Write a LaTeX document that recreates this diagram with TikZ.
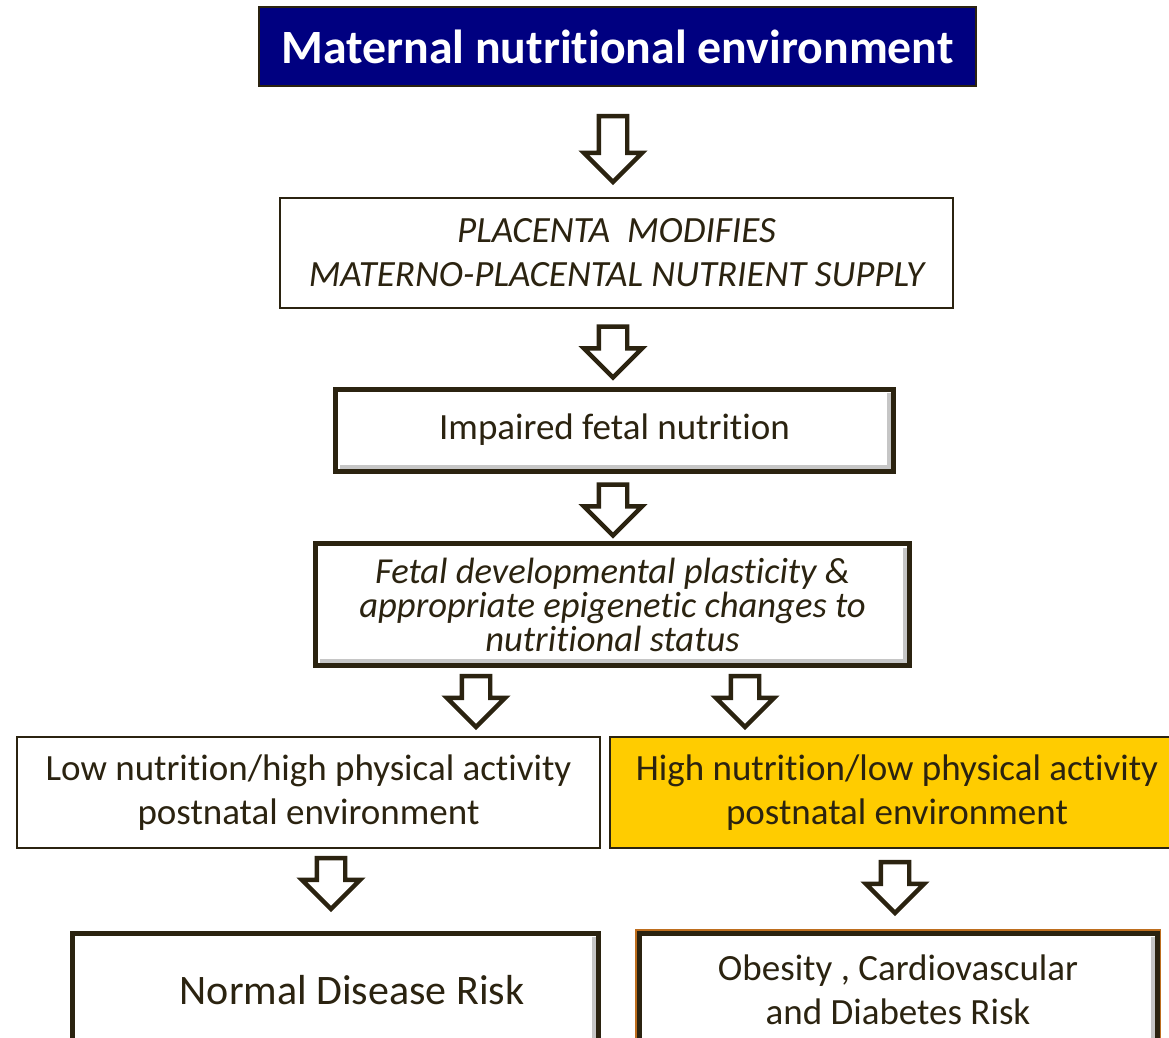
\documentclass[tikz,border=0pt]{standalone}
\usepackage{fontspec}
\setmainfont[Ligatures=NoCommon]{Carlito}
\usetikzlibrary{shapes.arrows}
\definecolor{darkbrown}{RGB}{43,35,16}
\definecolor{titleblue}{RGB}{0,0,128}
\definecolor{gold}{RGB}{255,204,0}
\definecolor{rim}{RGB}{190,110,30}
\newcommand{\bigtext}{\fontsize{18.5}{22}\selectfont}
\newcommand{\smalltext}{\fontsize{18.3}{17}\selectfont}
\tikzset{
  box/.style={draw=darkbrown, fill=white, text=darkbrown, align=center, inner sep=0pt},
  thinbox/.style={box, line width=1pt},
  thickbox/.style={box, line width=2.5pt,
    path picture={\draw[gray!45, line width=2pt]
      ([shift={(2.2pt,2.2pt)}]path picture bounding box.south west) --
      ([shift={(-2.2pt,2.2pt)}]path picture bounding box.south east) --
      ([shift={(-2.2pt,-2.2pt)}]path picture bounding box.north east);}},
  downarrow/.style={single arrow, draw=darkbrown, fill=white, line width=2.2pt,
    shape border rotate=270, inner sep=6pt, single arrow head extend=7.5pt,
    minimum height=25.5pt}
}
\begin{document}
\begin{tikzpicture}[x=0.5pt,y=-0.5pt]
    \useasboundingbox (0,0) rectangle (1169,1038);
    \clip (0,0) rectangle (1169,1038);

    \node[box, fill=titleblue, text=white, line width=0.75pt, minimum width=358.5pt, minimum height=39.5pt,
          font=\bfseries\fontsize{23.9}{28}\selectfont] (maternal) at (617.5,46.5) {Maternal nutritional environment};
    \node[thinbox, minimum width=336.5pt, minimum height=55pt, font=\bigtext\itshape] (placenta) at (616.5,253)
          {PLACENTA\ \ MODIFIES\\MATERNO-PLACENTAL NUTRIENT SUPPLY};
    \node[thickbox, minimum width=279pt, minimum height=41pt, font=\bigtext] (impaired) at (614.5,430) {Impaired fetal nutrition};
    \node[thickbox, minimum width=297pt, minimum height=61pt, font=\smalltext\itshape] (plasticity) at (612.5,604.5)
          {Fetal developmental plasticity \&\\appropriate epigenetic changes to\\nutritional status};
    \node[thinbox, minimum width=291.5pt, minimum height=55.5pt, font=\bigtext] (lowenv) at (308.5,792.5)
          {Low nutrition/high physical activity\\postnatal environment};
    \node[thinbox, fill=gold, minimum width=287pt, minimum height=55.5pt, font=\bigtext] (highenv) at (897,792.5)
          {High nutrition/low physical activity\\postnatal environment};
    \node[thickbox, minimum width=263pt, minimum height=57pt, font=\fontsize{21}{24}\selectfont] (normal) at (335,990)
          {\hspace*{17pt}Normal Disease Risk};
    \node[thickbox, preaction={draw=rim, line width=4pt}, minimum width=259pt, minimum height=57pt, font=\bigtext] (risk) at (898,990)
          {Obesity , Cardiovascular\\and Diabetes Risk};

    % block arrows between the boxes
    \node[downarrow, minimum height=33pt] (a1) at (613,142) {};
    \node[downarrow] (a2) at (613,345) {};
    \node[downarrow] (a3) at (613,503) {};
    \node[downarrow] (a4) at (476,694.5) {};
    \node[downarrow] (a5) at (745,694.5) {};
    \node[downarrow] (a6) at (331,876.5) {};
    \node[downarrow] (a7) at (895,880.5) {};
\end{tikzpicture}
\end{document}
